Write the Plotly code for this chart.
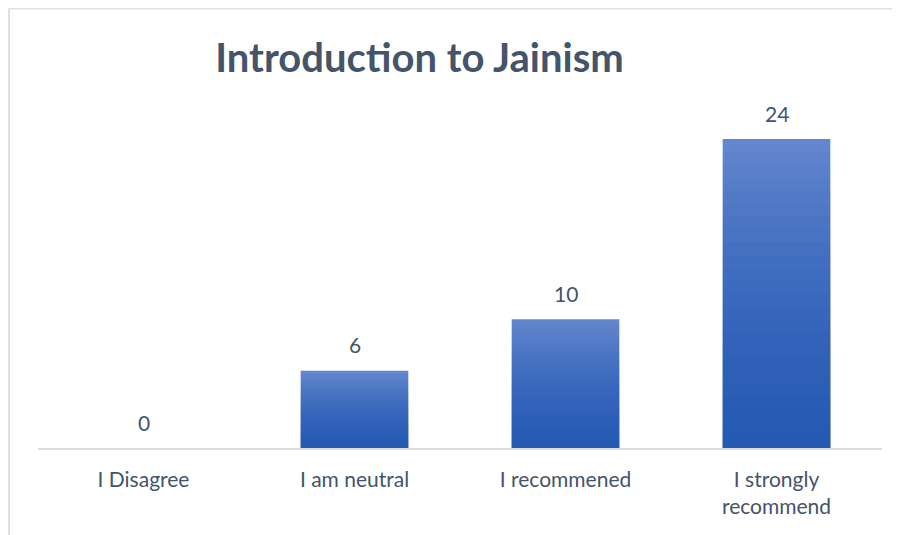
import plotly.graph_objects as go

categories = ["I Disagree", "I am neutral", "I recommened", "I strongly<br>recommend"]
values = [0, 6, 10, 24]
title_text = "Introduction to Jainism"

TOP = (99, 134, 206)
DARK = (23, 83, 180)
N_LAYERS = 23
ALPHA = 0.051
TEXT = "#44546A"
FONT = "Lato"

# page has an 8px body margin, so the figure is laid out 8px smaller
W, H = 892, 527
ML, MR, MT, MB = 30, 18, 92, 87
PW = W - ML - MR
PH = H - MT - MB
PX_PER_UNIT = 12.875

fig = go.Figure()
fig.add_trace(go.Bar(x=categories, y=values, marker=dict(color="rgb(%d,%d,%d)" % TOP, line=dict(width=0)),
                     hoverinfo="skip", showlegend=False))
for k in range(1, N_LAYERS + 1):
    frac = k / (N_LAYERS + 1)
    fig.add_trace(go.Bar(x=categories, y=[v * frac for v in values],
                         marker=dict(color="rgba(%d,%d,%d,%.3f)" % (DARK + (ALPHA,)), line=dict(width=0)),
                         hoverinfo="skip", showlegend=False))

for c, v in zip(categories, values):
    fig.add_annotation(x=c, y=v, text=str(v), showarrow=False, yanchor="middle", yshift=26,
                       font=dict(family=FONT, size=21, color=TEXT))

border_y = 1 + (MT - 0.5) / PH
border_x = -(ML - 1) / PW

fig.update_layout(
    width=W, height=H,
    barmode="overlay", bargap=0.49,
    paper_bgcolor="white", plot_bgcolor="white",
    margin=dict(l=ML, r=MR, t=MT, b=MB),
    title=dict(text="<b>%s</b>" % title_text, x=411.5 / W, xanchor="center", xref="container",
               y=1 - 50 / H, yanchor="middle", yref="container",
               font=dict(family=FONT, size=40, color=TEXT)),
    xaxis=dict(showline=True, linecolor="rgb(217,222,228)", linewidth=1.5, showgrid=False,
               ticks="", ticklabelstandoff=12,
               tickfont=dict(family=FONT, size=21, color=TEXT), fixedrange=True),
    yaxis=dict(range=[0, PH / PX_PER_UNIT], visible=False, showgrid=False, zeroline=False, fixedrange=True),
    shapes=[
        dict(type="line", xref="paper", yref="paper", x0=border_x, x1=1.2, y0=border_y, y1=border_y,
             line=dict(color="rgb(220,225,231)", width=2)),
        dict(type="line", xref="paper", yref="paper", x0=border_x, x1=border_x, y0=border_y, y1=-0.5,
             line=dict(color="rgb(220,225,231)", width=2)),
    ],
)

fig.write_html("out.html")
